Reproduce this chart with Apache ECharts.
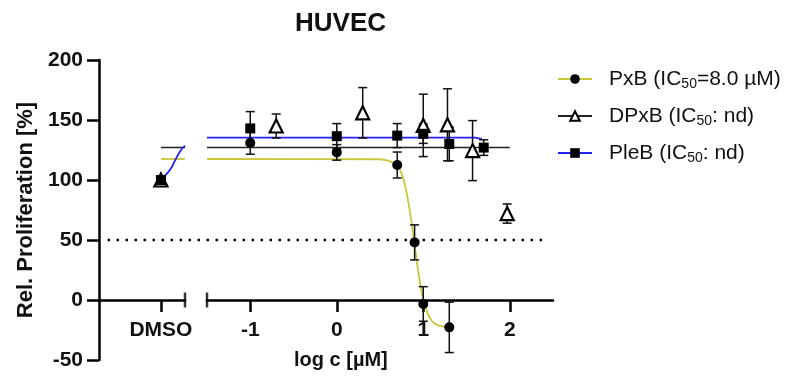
<!DOCTYPE html>
<html>
<head>
<meta charset="utf-8">
<script src="https://cdn.jsdelivr.net/npm/echarts@6/dist/echarts.min.js"></script>
<style>
  html, body { margin: 0; padding: 0; background: #fff; }
  #chart { width: 793px; height: 379px; }
</style>
</head>
<body>
<div id="chart"></div>
<script>
// HUVEC - Proliferation vs log c

// DMSO control (own broken x segment)
const dmsoPos = 0.72;
const dmsoVal = [100, 100, 100];      // PxB, DPxB, PleB
const dmsoErr = [2, 2, 2];

// measured points (x = log c [µM])
const pxbX = [-1, 0, 0.699, 0.9, 1, 1.301];
const pxbY = [131, 123, 112.5, 48, -3.3, -22.8];
const pxbErr = [9.5, 6.5, 10.8, 14.6, 14.4, 21];

const dpxbX = [-0.7, 0.3, 1, 1.28, 1.57, 1.97];
const dpxbY = [145, 156, 145.5, 146, 124.5, 72];
const dpxbErr = [10, 21, 26, 30, 25, 8];

const plebX = [-1, 0, 0.699, 1, 1.301, 1.699];
const plebY = [143, 136.5, 137, 138.5, 130, 127];
const plebErr = [14, 10.5, 10, 8, 14, 6.5];

// fitted curves
const pxbFitX = [-1.5, 0.5, 0.6, 0.65, 0.7, 0.75, 0.8, 0.85, 0.9, 0.95, 1.0, 1.05, 1.1, 1.15, 1.2, 1.3];
const pxbFitY = [117.5, 117.3, 116, 114.5, 111.5, 105.5, 92, 72, 46, 20, 1, -11, -17.5, -20.5, -21.8, -22.5];
const dpxbFitX = [-1.5, 2.0];
const dpxbFitY = [127, 127];
const plebFitX = [-1.5, 1.6, 1.68];
const plebFitY = [135.3, 135.3, 134];

// fit lines inside the DMSO segment
const dmsoLineX = [0.72, 1.0];
const pxbDmsoFit = [117.5, 117.5];
const dpxbDmsoFit = [127, 127];
const plebDmsoX = [0.72, 0.76, 0.83, 0.89, 0.95, 1.0];
const plebDmsoY = [100, 103, 109, 117, 124.5, 128.6];

const cutoff = 50;
const cutoffX = [-2.65, 2.39];

const xTicks = [-1, 0, 1, 2];

const FONT = 'Liberation Sans, Arial, sans-serif';
const YELLOW = '#c9c63c';
const BLUE = '#2323f5';

const zip = (xs, ys) => xs.map((x, i) => [x, ys[i]]);
const errData = (xs, ys, es) => xs.map((x, i) => [x, ys[i] - es[i], ys[i] + es[i]]);

function errorBars(xIdx, data) {
    return {
        type: 'custom',
        xAxisIndex: xIdx, yAxisIndex: xIdx,
        z: 3,
        silent: true,
        clip: false,
        data: data,
        renderItem: function (params, api) {
            const lo = api.coord([api.value(0), api.value(1)]);
            const hi = api.coord([api.value(0), api.value(2)]);
            const w = 4.5;
            const style = { stroke: '#111', lineWidth: 1.5 };
            return {
                type: 'group',
                children: [
                    { type: 'line', shape: { x1: lo[0], y1: lo[1], x2: hi[0], y2: hi[1] }, style },
                    { type: 'line', shape: { x1: lo[0] - w, y1: lo[1], x2: lo[0] + w, y2: lo[1] }, style },
                    { type: 'line', shape: { x1: hi[0] - w, y1: hi[1], x2: hi[0] + w, y2: hi[1] }, style }
                ]
            };
        }
    };
}

const chart = echarts.init(document.getElementById('chart'));

// data grids end at y = 0, the full grid (visible y axis) goes down to -50
const hiddenY = { type: 'value', min: 0, max: 200, show: false, splitLine: { show: false } };

const axisLineStyle = { color: '#000', width: 2.5 };
const labelStyle = { color: '#111', fontFamily: FONT, fontWeight: 'bold', fontSize: 21 };

const legendNames = [
    '{a|PxB (IC}{s|50}{a|=8.0 µM)}',
    '{a|DPxB (IC}{s|50}{a|: nd)}',
    '{a|PleB (IC}{s|50}{a|: nd)}'
];
const names = ['PxB', 'DPxB', 'PleB'];

const option = {
    animation: false,
    backgroundColor: '#fff',
    title: [
        { text: 'HUVEC', left: 290, top: 6,
          textStyle: { fontFamily: FONT, fontWeight: 'bold', fontSize: 26, color: '#111' } },
        { text: 'log c [µM]', left: 289, top: 345,
          textStyle: { fontFamily: FONT, fontWeight: 'bold', fontSize: 20, color: '#111' } }
    ],
    legend: {
        orient: 'vertical',
        left: 552, top: 63,
        itemWidth: 34, itemHeight: 12,
        itemGap: 14,
        selectedMode: false,
        data: names,
        formatter: function (n) { return legendNames[names.indexOf(n)]; },
        textStyle: {
            padding: [0, 0, 0, 12],
            rich: {
                a: { fontFamily: FONT, fontSize: 21, color: '#111', lineHeight: 24 },
                s: { fontFamily: FONT, fontSize: 14, color: '#111', lineHeight: 24, verticalAlign: 'bottom', padding: [9, 0, 0, 0] }
            }
        }
    },
    grid: [
        { left: 99, width: 454, top: 60, height: 300, outerBoundsMode: 'none' },
        { left: 99, width: 86, top: 60, height: 240, outerBoundsMode: 'none' },
        { left: 207, width: 346, top: 60, height: 240, outerBoundsMode: 'none' }
    ],
    xAxis: [
        { gridIndex: 0, type: 'value', min: -2.7486, max: 2.5, show: false },
        {
            gridIndex: 1, type: 'value', min: 0, max: 1,
            axisLine: { onZero: false, lineStyle: axisLineStyle },
            axisTick: { length: 12, lineStyle: { width: 2.5, color: '#000' }, customValues: [dmsoPos] },
            axisLabel: Object.assign({ customValues: [dmsoPos], margin: 20, formatter: () => 'DMSO' }, labelStyle),
            splitLine: { show: false }
        },
        {
            gridIndex: 2, type: 'value', min: -1.5, max: 2.5,
            axisLine: { onZero: false, lineStyle: axisLineStyle },
            axisTick: { length: 12, lineStyle: { width: 2.5, color: '#000' }, customValues: xTicks },
            axisLabel: Object.assign({ customValues: xTicks, margin: 20 }, labelStyle),
            splitLine: { show: false }
        }
    ],
    yAxis: [
        {
            gridIndex: 0, type: 'value', min: -50, max: 200, interval: 50,
            splitLine: { show: false },
            name: 'Rel. Proliferation [%]',
            nameLocation: 'middle',
            nameGap: 62,
            nameTextStyle: { fontFamily: FONT, fontWeight: 'bold', fontSize: 22, color: '#111' },
            axisLine: { show: true, onZero: false, lineStyle: axisLineStyle },
            axisTick: { show: true, length: 12, lineStyle: { width: 2.5, color: '#000' } },
            axisLabel: Object.assign({ margin: 16 }, labelStyle)
        },
        Object.assign({ gridIndex: 1 }, hiddenY),
        Object.assign({ gridIndex: 2 }, hiddenY)
    ],
    series: [
        // fit lines (also legend entries)
        {
            name: 'PxB', type: 'line', xAxisIndex: 2, yAxisIndex: 2,
            data: zip(pxbFitX, pxbFitY), smooth: 0.3, showSymbol: false, clip: false,
            symbol: 'circle', symbolSize: 10,
            lineStyle: { color: YELLOW, width: 1.8 },
            itemStyle: { color: '#000' }, z: 2
        },
        {
            name: 'DPxB', type: 'line', xAxisIndex: 2, yAxisIndex: 2,
            data: zip(dpxbFitX, dpxbFitY), showSymbol: false, clip: false,
            symbol: 'triangle', symbolSize: 12,
            lineStyle: { color: '#222', width: 1.5 },
            itemStyle: { color: '#fff', borderColor: '#000', borderWidth: 2.2 }, z: 2
        },
        {
            name: 'PleB', type: 'line', xAxisIndex: 2, yAxisIndex: 2,
            data: zip(plebFitX, plebFitY), showSymbol: false, clip: false,
            symbol: 'rect', symbolSize: 10,
            lineStyle: { color: BLUE, width: 1.8 },
            itemStyle: { color: '#000' }, z: 2
        },
        // lines in DMSO segment
        { type: 'line', xAxisIndex: 1, yAxisIndex: 1, data: zip(dmsoLineX, pxbDmsoFit), showSymbol: false,
          lineStyle: { color: YELLOW, width: 1.8 }, z: 2 },
        { type: 'line', xAxisIndex: 1, yAxisIndex: 1, data: zip(dmsoLineX, dpxbDmsoFit), showSymbol: false,
          lineStyle: { color: '#222', width: 1.5 }, z: 2 },
        { type: 'line', xAxisIndex: 1, yAxisIndex: 1, data: zip(plebDmsoX, plebDmsoY), showSymbol: false, smooth: 0.5,
          lineStyle: { color: BLUE, width: 1.8 }, z: 2 },
        // 50 % cut-off
        { type: 'line', xAxisIndex: 0, yAxisIndex: 0, data: zip(cutoffX, [cutoff, cutoff]), showSymbol: false,
          lineStyle: { color: '#000', width: 2.5, type: [2.5, 6.5] }, z: 1 },
        // axis break caps
        { type: 'scatter', xAxisIndex: 1, yAxisIndex: 1, data: [[1, 0]], symbol: 'rect', symbolSize: [2.5, 15],
          itemStyle: { color: '#000' }, clip: false, silent: true, z: 4 },
        { type: 'scatter', xAxisIndex: 2, yAxisIndex: 2, data: [[-1.5, 0]], symbol: 'rect', symbolSize: [2.5, 15],
          itemStyle: { color: '#000' }, clip: false, silent: true, z: 4 },
        // error bars
        errorBars(2, errData(pxbX, pxbY, pxbErr)),
        errorBars(2, errData(dpxbX, dpxbY, dpxbErr)),
        errorBars(2, errData(plebX, plebY, plebErr)),
        errorBars(1, errData([dmsoPos, dmsoPos, dmsoPos], dmsoVal, dmsoErr)),
        // markers
        { type: 'scatter', xAxisIndex: 2, yAxisIndex: 2, data: zip(pxbX, pxbY), symbol: 'circle', symbolSize: 10,
          itemStyle: { color: '#000', opacity: 1 }, clip: false, z: 5 },
        { type: 'scatter', xAxisIndex: 2, yAxisIndex: 2, data: zip(dpxbX, dpxbY), symbol: 'triangle', symbolSize: 13,
          itemStyle: { color: '#fff', borderColor: '#000', borderWidth: 2.2, opacity: 1 }, clip: false, z: 5 },
        { type: 'scatter', xAxisIndex: 2, yAxisIndex: 2, data: zip(plebX, plebY), symbol: 'rect', symbolSize: 10,
          itemStyle: { color: '#000', opacity: 1 }, clip: false, z: 5 },
        { type: 'scatter', xAxisIndex: 1, yAxisIndex: 1, data: [[dmsoPos, dmsoVal[0]]], symbol: 'circle', symbolSize: 10,
          itemStyle: { color: '#000', opacity: 1 }, clip: false, z: 5 },
        { type: 'scatter', xAxisIndex: 1, yAxisIndex: 1, data: [[dmsoPos, dmsoVal[1]]], symbol: 'triangle', symbolSize: 13,
          itemStyle: { color: '#fff', borderColor: '#000', borderWidth: 2.2, opacity: 1 }, clip: false, z: 5 },
        { type: 'scatter', xAxisIndex: 1, yAxisIndex: 1, data: [[dmsoPos, dmsoVal[2]]], symbol: 'rect', symbolSize: 10,
          itemStyle: { color: '#000', opacity: 1 }, clip: false, z: 6 }
    ]
};

chart.setOption(option);
</script>
</body>
</html>
